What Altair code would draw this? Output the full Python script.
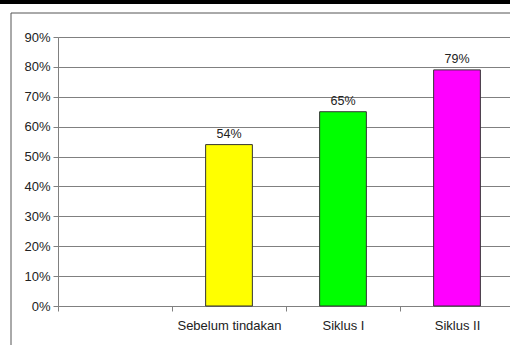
import altair as alt
import pandas as pd

categories = ["Sebelum tindakan", "Siklus I", "Siklus II"]
values = [0.54, 0.65, 0.79]
colors = ["#FFFF00", "#00FF00", "#FF00FF"]
x_domain = [" "] + categories
y_ticks = [0, 0.1, 0.2, 0.3, 0.4, 0.5, 0.6, 0.7, 0.8, 0.9]

df = pd.DataFrame({"cat": categories, "val": values, "color": colors})

FONT = "Liberation Sans"
TXT = "#222222"

x_enc = alt.X(
    "cat:N",
    scale=alt.Scale(domain=x_domain, paddingInner=0, paddingOuter=0, range=[0, 456]),
    axis=alt.Axis(
        title=None, labelAngle=0, tickBand="extent", tickSize=5,
        labelPadding=8, labelFont=FONT, labelFontSize=13, labelColor=TXT,
        domainColor="#808080", tickColor="#808080", grid=False,
    ),
)
y_enc = alt.Y(
    "val:Q",
    scale=alt.Scale(domain=[0, 0.9], nice=False),
    axis=alt.Axis(
        title=None, format=".0%", values=y_ticks, tickSize=5, labelPadding=3,
        labelFont=FONT, labelFontSize=13, labelColor=TXT, labelOverlap=False,
        domainColor="#808080", tickColor="#808080",
        grid=True, gridColor="#808080", gridWidth=1,
    ),
)

base = alt.Chart(df).encode(x=x_enc, y=y_enc)
bars = base.mark_bar(stroke="#333333", strokeWidth=1,
                     width=alt.RelativeBandSize(0.41)).encode(
    color=alt.Color("color:N", scale=None)
)
labels = base.mark_text(
    baseline="alphabetic", dy=-7, font=FONT, fontSize=12.5, color=TXT
).encode(text=alt.Text("val:Q", format=".0%"))

one = alt.Data(values=[{}])
frame_left = alt.Chart(one).mark_rule(color="#555555", strokeWidth=1).encode(
    x=alt.value(-47), y=alt.value(-24), y2=alt.value(320))
frame_top = alt.Chart(one).mark_rule(color="#555555", strokeWidth=1).encode(
    x=alt.value(-47), x2=alt.value(460), y=alt.value(-24))
top_bar = alt.Chart(one).mark_rule(color="#000000", strokeWidth=4).encode(
    x=alt.value(-60), x2=alt.value(460), y=alt.value(-35))

chart = alt.layer(bars, labels, frame_left, frame_top, top_bar).properties(
    width=452, height=269,
    autosize=alt.AutoSizeParams(type="none"),
    padding={"left": 58, "top": 37, "right": 0, "bottom": 39},
).configure_view(stroke=None).configure(background="white")

chart.save("out.html", embed_options={"renderer": "svg", "actions": False})
